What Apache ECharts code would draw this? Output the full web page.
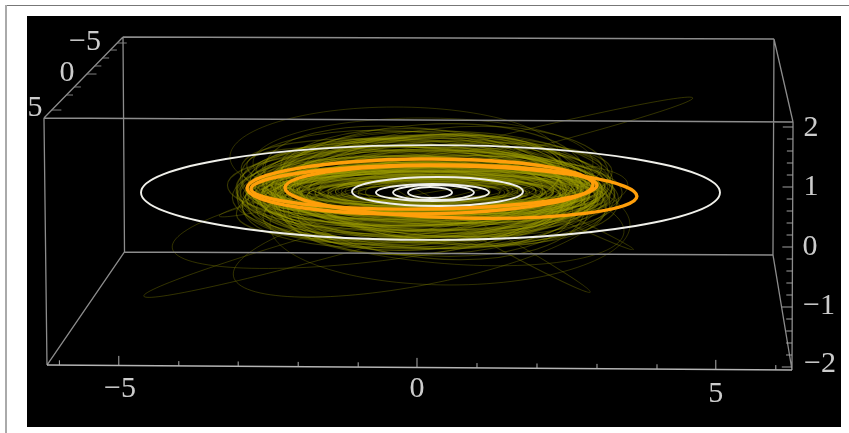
<!DOCTYPE html>
<html><head><meta charset="utf-8">
<script src="https://cdn.jsdelivr.net/npm/echarts@6/dist/echarts.min.js"></script>
<style>
html,body{margin:0;padding:0;background:#fff;width:849px;height:433px;overflow:hidden}
#frameT{position:absolute;left:6px;top:5px;width:843px;height:1px;background:#777}
#frameL{position:absolute;left:5px;top:5px;width:2px;height:428px;background:#aaa}
#c{position:absolute;left:27px;top:16px;width:814px;height:411px;filter:blur(0.4px)}
</style></head><body>
<div id="frameT"></div><div id="frameL"></div><div id="c"></div>
<script>
// Orbits: [centre x, centre z-plane, semi-major, semi-minor, tilt in degrees]
const whiteOrbits = [
  [0.225,0.908,4.825,0.790,0],
  [0.342,0.925,1.425,0.242,0],
  [0.258,0.908,0.942,0.142,0],
  [0.275,0.908,0.675,0.125,0],
  [0.217,0.908,0.367,0.092,0]
];
const orangeOrbits = [
  [0.050,1.008,2.883,0.458,0.6],
  [0.117,1.000,2.883,0.367,0.6],
  [0.733,0.917,2.933,0.433,-1.4]
];
const beltOrbits = [
  [0.15,0.95,3.10,0.98,1.0],[0.05,0.90,3.05,0.92,-1.5],[0.22,0.98,3.05,0.88,2.0],[0.10,0.85,3.12,0.84,-2.5],
  [0.30,0.92,3.00,0.95,-1.0],[-0.02,0.96,2.98,0.90,3.0],[0.18,1.00,2.95,0.82,0.5],[0.08,0.82,3.00,0.78,2.5],
  [0.26,0.86,3.08,0.80,-3.0],[0.12,1.04,2.90,0.74,-2.0],[0.34,0.94,2.92,0.76,1.5],[-0.06,0.88,2.94,0.72,-0.5],
  [0.20,0.80,2.88,0.70,3.5],[0.04,0.98,2.96,0.68,-3.0],[0.16,0.92,3.02,0.66,1.8],[0.28,1.02,2.86,0.64,-1.2],
  [0.10,0.88,2.92,0.62,-2.2],[0.24,0.90,2.98,0.60,2.8],[-0.04,0.94,2.90,0.58,0.8],[0.14,0.84,2.84,0.56,-0.6],
  [0.32,0.96,2.90,0.54,-2.6],[0.06,1.00,2.88,0.52,2.2],[0.18,0.90,2.94,0.50,-1.6],[0.22,0.94,2.82,0.48,1.2],
  [0.00,0.90,2.86,0.46,-0.9],[0.12,0.96,2.96,0.45,0.4],[0.30,0.88,2.80,0.44,1.9],[0.08,0.92,2.78,0.42,-1.9],
  [0.20,0.98,2.84,0.41,-0.3],[0.16,0.86,2.74,0.40,1.4],[0.26,0.92,2.70,0.70,-1.0],[0.02,0.94,2.72,0.66,1.7],
  [0.14,0.90,2.66,0.62,-2.4],[0.22,0.96,2.62,0.58,0.7],[0.06,0.88,2.68,0.55,2.3],[0.28,0.94,2.60,0.53,-1.3],
  [0.10,0.92,2.64,0.50,0.2],[0.18,0.84,2.58,0.48,1.6],[0.32,0.90,2.56,0.46,-0.8],[0.04,0.98,2.60,0.44,-1.8],
  [0.24,0.92,2.54,0.42,1.1],[0.12,0.88,2.50,0.40,-0.4],[0.16,0.96,2.52,0.38,0.9],[0.08,0.90,2.46,0.37,-1.1],
  [0.20,0.92,2.48,0.36,1.5],[0.26,0.88,2.42,0.34,-1.5],[0.02,0.92,2.44,0.33,0.5],[0.14,0.94,2.40,0.32,-0.2],
  [0.22,0.90,2.36,0.31,0.9],[0.10,0.96,2.38,0.30,-1.0],[0.18,0.88,2.32,0.52,1.3],[0.30,0.94,2.30,0.47,-1.4],
  [0.06,0.90,2.34,0.43,0.3],[0.16,0.92,2.28,0.39,-0.7],[0.24,0.96,2.24,0.35,1.0],[0.12,0.90,2.26,0.29,-0.5],
  [0.20,0.86,2.20,0.28,0.6],[0.08,0.94,2.18,0.27,-1.2],[0.28,0.90,2.22,0.26,1.4],[0.14,0.92,2.14,0.25,-0.3],
  [0.18,0.94,2.10,0.41,0.8],[0.04,0.90,2.12,0.36,-0.9],[0.22,0.88,2.06,0.32,1.2],[0.10,0.92,2.04,0.24,0.1],
  [0.26,0.94,2.00,0.23,-1.0],[0.16,0.90,1.98,0.22,0.7],[0.12,0.94,1.94,0.30,-0.6],[0.20,0.92,1.90,0.37,0.4],
  [0.08,0.88,1.92,0.27,1.1],[0.24,0.90,1.86,0.21,-0.8],[0.14,0.92,1.84,0.20,0.5],[0.18,0.96,1.80,0.33,-1.1],
  [0.30,0.92,1.78,0.26,0.9],[0.10,0.90,1.74,0.19,-0.4],[0.22,0.94,1.72,0.18,0.6],[0.06,0.92,1.70,0.29,-0.7],
  [0.16,0.88,1.66,0.24,1.0],[0.26,0.92,1.62,0.17,-0.2],[0.12,0.94,1.60,0.16,0.3],[0.20,0.90,1.56,0.28,-0.9],
  [0.08,0.92,1.52,0.22,0.8],[0.18,0.92,1.50,0.15,-0.5],[0.24,0.94,1.44,0.20,0.4],[0.14,0.90,1.40,0.14,0.7],
  [0.10,0.92,1.36,0.18,-0.6],[0.22,0.92,1.30,0.25,0.2],[0.16,0.94,1.24,0.13,-0.3],[0.20,0.90,1.18,0.17,0.5],
  [0.12,0.92,1.10,0.12,-0.4],[0.18,0.92,1.04,0.21,0.3],[0.24,0.90,2.76,0.30,0.6],[0.06,0.94,2.80,0.33,-0.6],
  [0.16,0.90,2.90,0.36,1.0],[0.28,0.94,2.88,0.38,-1.2],[0.12,0.88,2.98,0.50,1.3],[0.02,0.96,2.92,0.40,1.6],
  [0.34,0.90,2.84,0.34,-1.7],[0.18,0.96,2.72,0.36,0.9],[0.10,0.86,2.66,0.34,-1.5],[0.26,0.96,2.58,0.31,1.8],
  [0.12,1.02,2.70,1.02,4.0],[0.26,0.86,2.55,1.05,-5.0],[-0.10,0.96,2.85,0.96,-4.5],[0.42,0.98,2.78,1.00,5.5],
  [0.18,0.88,2.42,0.98,6.0],[0.05,1.06,2.60,0.92,-6.0],[0.36,0.82,2.66,0.94,3.5],[-0.18,0.90,2.74,0.88,5.0],
  [0.22,1.10,2.48,0.86,-3.5],[0.08,0.76,2.52,0.90,-4.0],[0.48,0.92,2.68,0.84,-6.5],[-0.22,1.00,2.62,0.82,6.5],
  [0.30,1.08,2.36,0.80,2.5],[0.14,0.80,2.30,0.84,4.5],[0.00,1.04,2.44,0.76,7.0],[0.40,0.84,2.46,0.78,-7.0],
  [0.24,0.98,2.24,0.86,-4.0],[-0.08,0.86,2.50,0.74,-3.0],[0.16,1.12,2.58,0.72,1.5],[0.34,0.78,2.72,0.70,2.0],
  [-0.14,1.08,2.80,0.68,-5.0],[0.44,1.04,2.82,0.66,4.5],[0.10,0.74,2.68,0.64,5.5],[0.28,1.14,2.56,0.62,-5.5],
  [-0.20,0.92,2.88,0.78,2.0],[0.50,0.90,2.86,0.72,-2.0],[0.06,1.12,2.34,0.64,-2.5],[0.38,0.76,2.38,0.60,6.0],
  [-0.12,0.80,2.40,0.58,-6.5],[0.20,1.06,2.16,0.70,3.0],[0.32,0.84,2.12,0.66,-3.0],[0.04,0.84,2.06,0.62,4.0],
  [0.46,1.00,2.64,0.56,7.5],[-0.16,1.02,2.70,0.54,-7.5],[0.24,0.72,2.78,0.52,3.0],[0.14,1.16,2.82,0.50,-3.0],
  [0.36,1.10,2.94,0.60,-4.5],[-0.06,0.78,2.96,0.62,4.5],[0.40,0.86,3.02,0.70,1.0],[-0.24,0.98,2.92,0.64,-1.0]
];
const faintOrbits = [
  [-0.750,0.250,3.950,0.220,15.7],
  [0.650,1.500,4.067,0.170,14.0],
  [1.050,0.267,2.100,0.110,-29.0],
  [2.550,0.450,1.167,0.060,-25.0],
  [-0.283,0.517,3.833,0.700,8.0],
  [0.050,0.117,3.167,0.750,11.0],
  [0.550,0.367,3.000,1.000,0.0],
  [0.217,0.583,3.250,0.833,-6.0],
  [-0.367,1.500,2.750,0.833,0.0],
  [0.100,1.400,2.833,0.750,0.0]
];
// Box corners, in the same plane units
const FTL=[-6.217,2.150], BTL=[-4.900,3.500], BTR=[5.950,3.467], FTR=[6.267,2.083];
const FBL=[-6.167,-1.967], FBR=[6.250,-2.050], BBL=[-4.875,-0.083], BBR=[5.933,-0.133];
const backEdges = [[FTL,FTR],[FTL,BTL],[BTL,BTR],[BTR,FTR],[FTL,FBL],[BTL,BBL],[BTR,BBR],[BBL,BBR],[BBL,FBL],[BBR,FBR],[FTR,FBR]];
const frontEdges = [[FBL,FBR]];
const xTicks = [-5.96,-4.97,-3.97,-2.98,-1.98,-0.98,0,1,2,3,4,4.98,5.98];
const xMajor = [-4.97,0,4.98];
const zTicks = [2,1.8,1.6,1.4,1.2,1,0.8,0.6,0.4,0.2,0,-0.2,-0.4,-0.6,-0.8,-1,-1.2,-1.4,-1.6,-1.8,-2];
const zMajor = [2,1,0,-1,-2];
const depthTickV = [2.283,2.533,2.667,2.883,3.017,3.150,3.283,3.400];
const depthMajorV = [2.283,2.883,3.400];
const labels = [
  [-4.95,-2.37,'\u22125'],[0,-2.37,'0'],[4.98,-2.45,'5'],
  [6.567,1.983,'2'],[6.567,1.0,'1'],[6.55,0,'0'],[6.70,-0.983,'\u22121'],[6.717,-1.95,'\u22122'],
  [-5.533,3.417,'\u22125'],[-5.833,2.9,'0'],[-6.367,2.317,'5']
];

function seg(list){const d=[];list.forEach(e=>{d.push(e[0],e[1],[null,null]);});return d;}
const lerp=(a,b,t)=>a+(b-a)*t;
function bottomV(x){return lerp(FBL[1],FBR[1],(x-FBL[0])/(FBR[0]-FBL[0]));}
function rightU(v){return lerp(FTR[0],FBR[0],(FTR[1]-v)/(FTR[1]-FBR[1]));}
function depthU(v){return lerp(FTL[0],BTL[0],(v-FTL[1])/(BTL[1]-FTL[1]));}
const xTickSegs=xTicks.map(x=>{const b=bottomV(x);return [[x,b],[x,b+(xMajor.includes(x)?0.16:0.08)]];});
const zTickSegs=zTicks.map(z=>{const u=rightU(z);return [[u,z],[u-(zMajor.includes(z)?0.17:0.10),z]];});
const depthSegs=depthTickV.map(v=>{const u=depthU(v);return [[u,v],[u+(depthMajorV.includes(v)?0.16:0.11),v]];});

function orbitSeries(name,rows,stroke,width,z){
  return {type:'custom',name,data:rows,z,silent:true,animation:false,clip:false,
    encode:{x:0,y:1},
    renderItem:(p,api)=>{
      const c=api.coord([api.value(0),api.value(1)]);
      const s=api.size([api.value(2),api.value(3)]);
      return {type:'ellipse',x:c[0],y:c[1],rotation:api.value(4)*Math.PI/180,
        shape:{cx:0,cy:0,rx:s[0],ry:s[1]},
        style:{fill:'none',stroke,lineWidth:width}};
    }};
}
function lineSeries(name,data,color,width,z){
  return {type:'line',name,data,z,silent:true,animation:false,symbol:'none',connectNulls:false,
    lineStyle:{color,width}};
}
const chart=echarts.init(document.getElementById('c'),null,{renderer:'canvas'});
chart.setOption({
  animation:false,backgroundColor:'#000',
  grid:{left:0,right:0,top:0,bottom:0},
  xAxis:{type:'value',min:-6.5,max:7.0667,show:false},
  yAxis:{type:'value',min:-3,max:3.85,show:false},
  series:[
    orbitSeries('Belt',beltOrbits,'rgba(165,165,0,0.34)',1.1,2),
    orbitSeries('Belt outliers',faintOrbits,'rgba(125,125,0,0.42)',0.9,2),
    lineSeries('Box',seg(backEdges),'#8c8c8c',1.3,3),
    lineSeries('Box front',seg(frontEdges),'#b4b4b4',1.7,3),
    lineSeries('X ticks',seg(xTickSegs),'#b0b0b0',1,3),
    lineSeries('Z ticks',seg(zTickSegs),'#a0a0a0',1,3),
    lineSeries('Y ticks',seg(depthSegs),'#808080',1,3),
    orbitSeries('White orbits',whiteOrbits,'#f0f0ea',1.9,4),
    orbitSeries('Orange orbits',orangeOrbits,'#ff9f0a',3.4,5),
    {type:'scatter',name:'Tick labels',data:labels,symbolSize:0,z:6,silent:true,animation:false,
      label:{show:true,position:'inside',color:'#fff',fontFamily:'"Liberation Serif",serif',fontSize:30,
        formatter:p=>p.value[2]}}
  ]
});
</script>
</body></html>
